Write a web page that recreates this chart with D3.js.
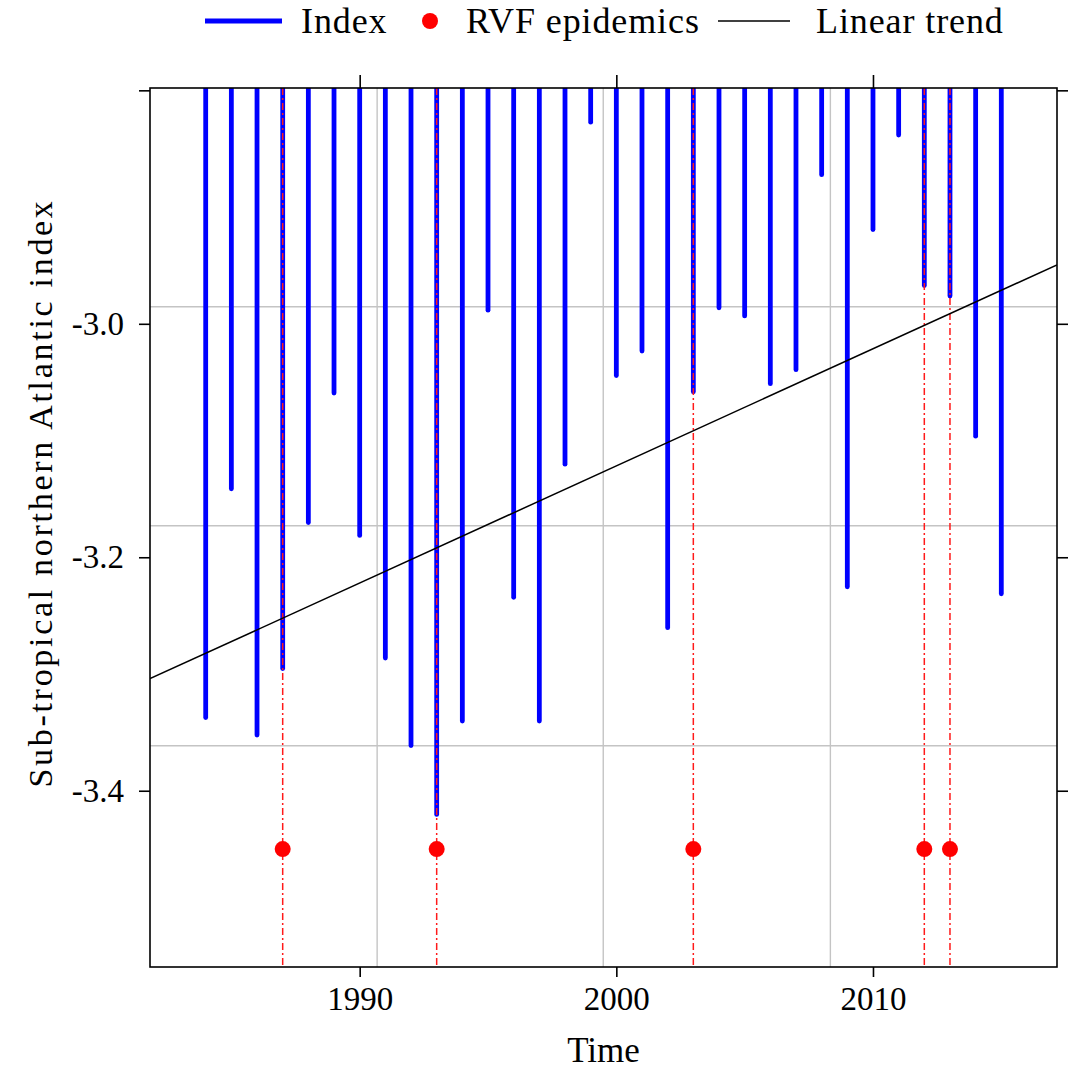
<!DOCTYPE html>
<html>
<head>
<meta charset="utf-8">
<script src="https://cdn.jsdelivr.net/npm/d3@7"></script>
<style>
  body { margin: 0; background: #fff; }
  svg text { font-family: "Liberation Serif", "Times New Roman", serif; fill: #000; }
</style>
</head>
<body>
<div class="container"></div>
<script>
const w = 1075;
const h = 1069;

// data
const years = [1984, 1985, 1986, 1987, 1988, 1989, 1990, 1991, 1992, 1993, 1994, 1995, 1996, 1997, 1998, 1999,
  2000, 2001, 2002, 2003, 2004, 2005, 2006, 2007, 2008, 2009, 2010, 2011, 2012, 2013, 2014, 2015];
const indexValues = [-3.339, -3.143, -3.354, -3.297, -3.172, -3.061, -3.183, -3.288, -3.363, -3.422, -3.342, -2.990,
  -3.236, -3.342, -3.122, -2.829, -3.046, -3.025, -3.262, -3.060, -2.988, -2.995, -3.053, -3.041, -2.874, -3.227,
  -2.921, -2.840, -2.969, -2.978, -3.098, -3.233];
const epidemicYears = [1987, 1993, 2003, 2012, 2013];
const epidemicLevel = [-3.45, -3.45, -3.45, -3.45, -3.45];
const trendYears = [1981.83, 2017.17];
const trendValues = [-3.304, -2.9495];
const gridYears = [1990.68, 1999.49, 2008.34];
const gridValues = [-2.9854, -3.1730, -3.3615];
const xTicks = [1990, 2000, 2010];
const yTicks = [-2.8, -3.0, -3.2, -3.4];
const yTickLabels = ['', '-3.0', '-3.2', '-3.4'];
const legendLabels = ['Index', 'RVF epidemics', 'Linear trend'];

const margin = { top: 88, bottom: 102, left: 150, right: 18 };
const width = w - margin.left - margin.right;
const height = h - margin.top - margin.bottom;

const svg = d3.select('.container').append('svg')
  .attr('width', w)
  .attr('height', h);

const x = d3.scaleLinear()
  .domain([1981.83, 2017.17])
  .range([0, width]);
const y = d3.scaleLinear()
  .domain([-3.551, -2.798])
  .range([height, 0]);

svg.append('defs').append('clipPath')
  .attr('id', 'clip')
  .append('rect')
  .attr('width', width)
  .attr('height', height);

const chart = svg.append('g')
  .attr('transform', `translate(${margin.left}, ${margin.top})`);

const panel = chart.append('g').attr('clip-path', 'url(#clip)');

// grey reference grid
panel.selectAll('.gx')
  .data(gridYears)
  .enter().append('line')
  .attr('x1', d => x(d)).attr('x2', d => x(d))
  .attr('y1', 0).attr('y2', height)
  .style('stroke', '#c4c4c4').style('stroke-width', 1.4);
panel.selectAll('.gy')
  .data(gridValues)
  .enter().append('line')
  .attr('x1', 0).attr('x2', width)
  .attr('y1', d => y(d)).attr('y2', d => y(d))
  .style('stroke', '#c4c4c4').style('stroke-width', 1.4);

// index bars hanging from the top of the panel
panel.selectAll('.bar')
  .data(years)
  .enter().append('line')
  .classed('bar', true)
  .attr('x1', d => x(d)).attr('x2', d => x(d))
  .attr('y1', -10)
  .attr('y2', (d, i) => y(indexValues[i]) - 2)
  .style('stroke', '#0000ff')
  .style('stroke-width', 4.8)
  .style('stroke-linecap', 'round');

// epidemic markers
panel.selectAll('.epi')
  .data(epidemicYears)
  .enter().append('line')
  .attr('x1', d => x(d)).attr('x2', d => x(d))
  .attr('y1', 0).attr('y2', height)
  .style('stroke', '#ff1a1a')
  .style('stroke-width', 1.5)
  .style('stroke-dasharray', '7,3,2,3');

panel.selectAll('.dot')
  .data(epidemicYears)
  .enter().append('circle')
  .attr('cx', d => x(d))
  .attr('cy', (d, i) => y(epidemicLevel[i]))
  .attr('r', 8)
  .style('fill', '#ff0000');

// linear trend
panel.append('path')
  .datum(trendYears)
  .attr('d', d3.line().x(d => x(d)).y((d, i) => y(trendValues[i])))
  .style('fill', 'none')
  .style('stroke', '#000')
  .style('stroke-width', 1.5);

// frame + ticks on all four sides
chart.append('rect')
  .attr('width', width).attr('height', height)
  .style('fill', 'none').style('stroke', '#000').style('stroke-width', 1.6);

const xAxis = d3.axisBottom(x).tickValues(xTicks).tickFormat(d3.format('d')).tickSize(10).tickPadding(10);
const xTop = d3.axisTop(x).tickValues(xTicks).tickFormat('').tickSize(13);
const yAxis = d3.axisLeft(y).tickValues(yTicks).tickFormat((d, i) => yTickLabels[i]).tickSize(11).tickPadding(15);
const yRight = d3.axisRight(y).tickValues(yTicks).tickFormat('').tickSize(11);

const gx = chart.append('g').attr('transform', `translate(0, ${height})`).call(xAxis);
chart.append('g').call(xTop);
const gy = chart.append('g').call(yAxis);
chart.append('g').attr('transform', `translate(${width}, 0)`).call(yRight);

chart.selectAll('.domain').remove();
chart.selectAll('.tick line').style('stroke', '#000').style('stroke-width', 1.6);
gx.selectAll('text').style('font-size', '33px').style('font-family', '"Liberation Serif", serif');
gy.selectAll('text').style('font-size', '33px').style('font-family', '"Liberation Serif", serif');

// axis titles
svg.append('text')
  .attr('x', margin.left + width / 2)
  .attr('y', 1062)
  .attr('text-anchor', 'middle')
  .style('font-size', '35px')
  .text('Time');

svg.append('text')
  .attr('transform', 'translate(52, 493) rotate(-90)')
  .attr('text-anchor', 'middle')
  .style('font-size', '34px')
  .style('letter-spacing', '2.7px')
  .text('Sub-tropical northern Atlantic index');

// legend
const legend = svg.append('g');
legend.append('line')
  .attr('x1', 205).attr('x2', 282).attr('y1', 21).attr('y2', 21)
  .style('stroke', '#0000ff').style('stroke-width', 4.8);
legend.append('circle')
  .attr('cx', 430).attr('cy', 21).attr('r', 8)
  .style('fill', '#ff0000');
legend.append('line')
  .attr('x1', 718).attr('x2', 790).attr('y1', 21).attr('y2', 21)
  .style('stroke', '#000').style('stroke-width', 1.5);
legend.selectAll('.lt')
  .data(legendLabels)
  .enter().append('text')
  .attr('x', (d, i) => [301, 466, 816][i])
  .attr('y', 33)
  .style('font-size', '36px')
  .style('letter-spacing', '0.9px')
  .text(d => d);
</script>
</body>
</html>
